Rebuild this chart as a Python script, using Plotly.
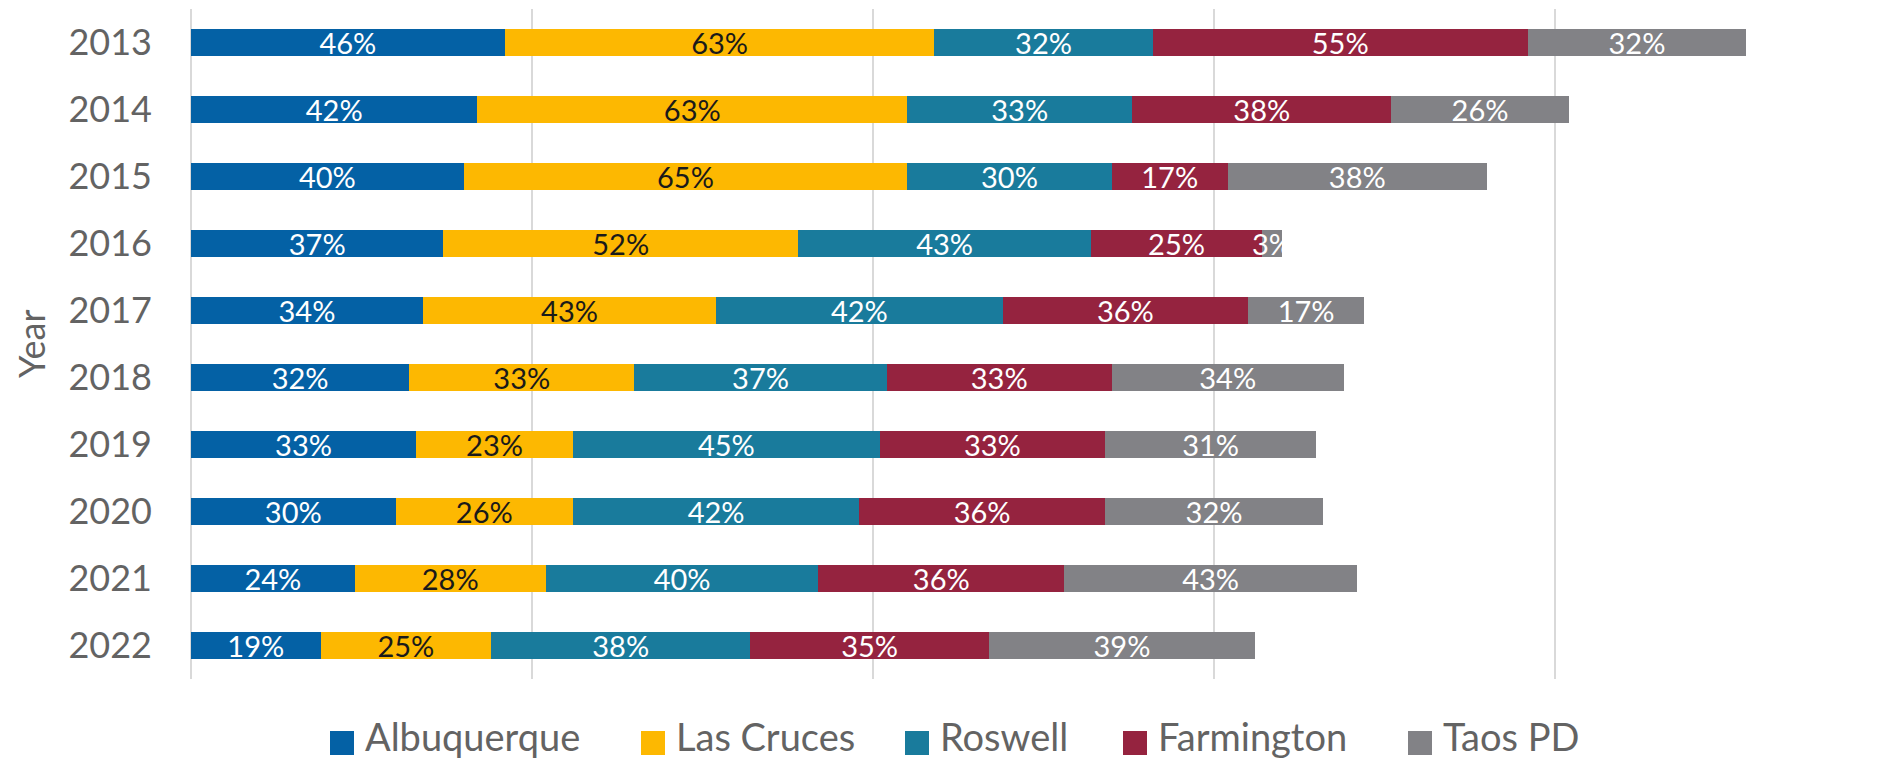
import plotly.graph_objects as go

years = ["2013", "2014", "2015", "2016", "2017", "2018", "2019", "2020", "2021", "2022"]
albuquerque = [46, 42, 40, 37, 34, 32, 33, 30, 24, 19]
las_cruces = [63, 63, 65, 52, 43, 33, 23, 26, 28, 25]
roswell = [32, 33, 30, 43, 42, 37, 45, 42, 40, 38]
farmington = [55, 38, 17, 25, 36, 33, 33, 36, 36, 35]
taos_pd = [32, 26, 38, 3, 17, 34, 31, 32, 43, 39]

names = ["Albuquerque", "Las Cruces", "Roswell", "Farmington", "Taos PD"]
values = [albuquerque, las_cruces, roswell, farmington, taos_pd]
colors = ["#0461A5", "#FDB801", "#197B9C", "#95233F", "#828286"]
text_colors = ["white", "#1a1a1a", "white", "white", "white"]

W, H = 1877, 759
L, R, T, B = 191, 0, 9, 80
PW, PH = W - L - R, H - T - B
GREY = "#636363"

fig = go.Figure()
for name, vals, color, tcolor in zip(names, values, colors, text_colors):
    fig.add_trace(go.Bar(
        y=years, x=vals, name=name, orientation="h",
        marker=dict(color=color, line=dict(width=0)),
        text=[f"{v}%" for v in vals],
        textposition="inside", insidetextanchor="middle",
        constraintext="none", textangle=0,
        textfont=dict(family="Lato", size=29, color=tcolor),
        cliponaxis=False, showlegend=False,
    ))

def px_x(p):
    return (p - L) / PW

def px_y(p):
    return (H - B - p) / PH

# legend: colored squares + labels, laid out like the reference
legend_sq_left = [330, 641, 905, 1123, 1408]
shapes = []
annotations = []
for name, color, x0 in zip(names, colors, legend_sq_left):
    shapes.append(dict(
        type="rect", xref="paper", yref="paper",
        x0=px_x(x0), x1=px_x(x0 + 24), y0=px_y(755), y1=px_y(731),
        fillcolor=color, line=dict(width=0), layer="above",
    ))
    annotations.append(dict(
        text=name, xref="paper", yref="paper",
        x=px_x(x0 + 34), y=px_y(760), xanchor="left", yanchor="bottom",
        borderpad=0,
        showarrow=False, font=dict(family="Lato", size=38, color=GREY),
    ))

annotations.append(dict(
    text="Year", textangle=-90, xref="paper", yref="paper",
    x=px_x(31), y=px_y(344),
    xanchor="center", yanchor="middle", showarrow=False,
    font=dict(family="Lato", size=36, color=GREY),
))

fig.update_layout(
    barmode="stack",
    bargap=0.6,
    width=W, height=H,
    margin=dict(l=L, r=R, t=T, b=B, autoexpand=False),
    plot_bgcolor="white", paper_bgcolor="white",
    font=dict(family="Lato", color=GREY),
    showlegend=False,
    xaxis=dict(
        range=[0, 247.2], showticklabels=False, showgrid=True,
        gridcolor="#d9d9d9", gridwidth=1.5, dtick=50,
        zeroline=True, zerolinecolor="#d9d9d9", zerolinewidth=1.5,
        fixedrange=True,
    ),
    yaxis=dict(
        autorange="reversed", ticks="", showline=False, automargin=False,
        tickfont=dict(family="Lato", size=36, color=GREY),
        ticklabelstandoff=38,
    ),
    shapes=shapes,
    annotations=annotations,
)

fig.write_html("out.html", config={"displayModeBar": False},
               post_script="document.body.style.margin='0';")
